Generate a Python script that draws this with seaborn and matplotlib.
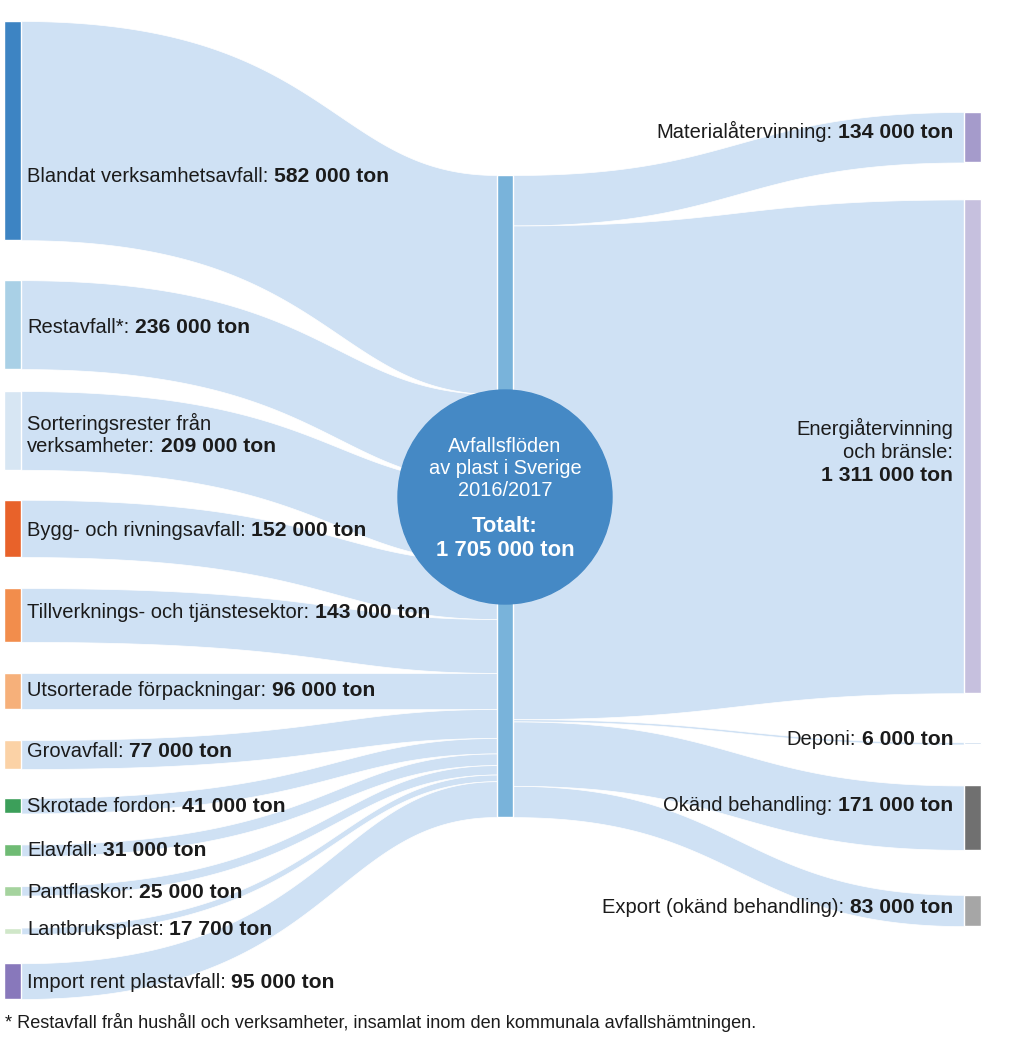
import numpy as np
import matplotlib.pyplot as plt
import matplotlib.patches as mpatches
import seaborn as sns

# Sources of plastic waste (thousand tonnes)
left_names = [
    "Blandat verksamhetsavfall:",
    "Restavfall*:",
    "Sorteringsrester från\nverksamheter:",
    "Bygg- och rivningsavfall:",
    "Tillverknings- och tjänstesektor:",
    "Utsorterade förpackningar:",
    "Grovavfall:",
    "Skrotade fordon:",
    "Elavfall:",
    "Pantflaskor:",
    "Lantbruksplast:",
    "Import rent plastavfall:",
]
left_values = [582, 236, 209, 152, 143, 96, 77, 41, 31, 25, 17.7, 95]
left_amounts = ["582 000 ton", "236 000 ton", "209 000 ton", "152 000 ton", "143 000 ton",
                "96 000 ton", "77 000 ton", "41 000 ton", "31 000 ton", "25 000 ton",
                "17 700 ton", "95 000 ton"]
left_colors = ["#3d84c3", "#a9d0e6", "#d7e6f3", "#e8622a", "#f28d4c", "#f6b07a",
               "#fbd2a6", "#3c9f5a", "#6fbb74", "#a5d39e", "#d0e7c9", "#8878bb"]

# Treatment (thousand tonnes)
right_names = [
    "Materialåtervinning:",
    "Energiåtervinning\noch bränsle:\n",
    "Deponi:",
    "Okänd behandling:",
    "Export (okänd behandling):",
]
right_values = [134, 1311, 6, 171, 83]
right_amounts = ["134 000 ton", "1 311 000 ton", "6 000 ton", "171 000 ton", "83 000 ton"]
right_colors = ["#a59bcb", "#c6c0de", "#c4d6ea", "#707070", "#a6a6a6"]

hub_title = ["Avfallsflöden", "av plast i Sverige", "2016/2017"]
hub_total = ["Totalt:", "1 705 000 ton"]
footnote = "* Restavfall från hushåll och verksamheter, insamlat inom den kommunala avfallshämtningen."

# layout (pixels)
W, H = 1024, 1039
hub_top = 175
scale = 642 / sum(left_values)
left_x = (4, 21)
hub_x = (497, 513)
right_x = (964, 981)
left_top0 = 21
left_gaps = [40, 22, 30, 31, 31, 31, 29, 31, 30, 32, 29]
right_top0 = 112
right_gaps = [37, 49, 41, 45]
left_label_y = [175, 326, 434, 529, 611, 689, 750, 805, 849, 891, 928, 981]
right_label_y = [131, 451, 738, 804, 906]
hub_title_y = [446, 468, 491]
hub_total_y = [526, 550]
flow_color = "#cfe1f4"

sns.set_theme(style="white")
plt.rcParams["font.family"] = ["Liberation Sans Narrow", "Liberation Sans", "DejaVu Sans"]

fig = plt.figure(figsize=(W / 100, H / 100), dpi=100)
ax = fig.add_axes([0, 0, 1, 1])
ax.set_xlim(0, W)
ax.set_ylim(H, 0)
ax.axis("off")


def stack(values, top0, gaps):
    tops, y = [], top0
    for i, v in enumerate(values):
        tops.append(y)
        y += v * scale + (gaps[i] if i < len(gaps) else 0)
    return tops


def ribbon(x0, x1, a0, b0, a1, b1, ctrl):
    t = np.linspace(0, 1, 120)
    cx = x0 + ctrl * (x1 - x0)
    xs = (1 - t) ** 3 * x0 + 3 * (1 - t) ** 2 * t * cx + 3 * (1 - t) * t ** 2 * cx + t ** 3 * x1
    s = 3 * (1 - t) * t ** 2 + t ** 3
    ax.fill_between(xs, a0 + (a1 - a0) * s, b0 + (b1 - b0) * s,
                    color=flow_color, ec="white", lw=0.5, zorder=1)


left_tops = stack(left_values, left_top0, left_gaps)
right_tops = stack(right_values, right_top0, right_gaps)

# flows into the hub
y = hub_top
for top, v in zip(left_tops, left_values):
    h = v * scale
    ribbon(left_x[1], hub_x[0], top, top + h, y, y + h, 0.65)
    y += h

# flows out of the hub
y = hub_top
for top, v in zip(right_tops, right_values):
    h = v * scale
    ribbon(hub_x[1], right_x[0], y, y + h, top, top + h, 0.5)
    y += h

# node bars
ax.bar(left_x[0], [v * scale for v in left_values], bottom=left_tops,
       width=left_x[1] - left_x[0], align="edge", color=left_colors, zorder=2)
ax.bar(right_x[0], [v * scale for v in right_values], bottom=right_tops,
       width=right_x[1] - right_x[0], align="edge", color=right_colors, zorder=2)
ax.bar(hub_x[0], sum(left_values) * scale, bottom=hub_top,
       width=hub_x[1] - hub_x[0], align="edge", color="#79b3da", zorder=2)

# hub circle
cx, cy, r = 505, 497, 107
ax.add_patch(mpatches.Circle((cx, cy), r, color="#4589c5", zorder=3))
for s, yy in zip(hub_title, hub_title_y):
    ax.text(cx, yy, s, ha="center", va="center", color="white", fontsize=14.4, zorder=4)
for s, yy in zip(hub_total, hub_total_y):
    ax.text(cx, yy, s, ha="center", va="center", color="white", fontsize=15.8,
            weight="bold", zorder=4)

TXT = "#1b1b1b"
FS = 14.5
FSB = 15.2
LINE = 23
BASE = 7  # baseline sits below the visual centre of the line
GAP = 4   # points between label and bold amount


def draw_label(x, yc, name, amount, ha):
    lines = name.split("\n")
    n = len(lines)
    ys = [yc + (i - (n - 1) / 2) * LINE + BASE for i in range(n)]
    for ln, yy in zip(lines[:-1], ys[:-1]):
        ax.text(x, yy, ln, ha=ha, va="baseline", fontsize=FS, color=TXT, zorder=5)
    last, yy = lines[-1], ys[-1]
    if ha == "left":
        t = ax.text(x, yy, last, ha="left", va="baseline", fontsize=FS, color=TXT, zorder=5)
        ax.annotate(amount, xy=(1, 0), xycoords=t, xytext=(GAP, 0), textcoords="offset points",
                    ha="left", va="bottom", fontsize=FSB, weight="bold", color=TXT, zorder=5)
    else:
        t = ax.text(x, yy, amount, ha="right", va="baseline", fontsize=FSB, weight="bold",
                    color=TXT, zorder=5)
        if last:
            ax.annotate(last, xy=(0, 0), xycoords=t, xytext=(-GAP, 0), textcoords="offset points",
                        ha="right", va="bottom", fontsize=FS, color=TXT, zorder=5)


for name, amt, yl in zip(left_names, left_amounts, left_label_y):
    draw_label(27, yl, name, amt, "left")
for name, amt, yl in zip(right_names, right_amounts, right_label_y):
    draw_label(953, yl, name, amt, "right")

ax.text(5, 1023, footnote, ha="left", va="center", fontsize=13.1, color=TXT)

fig.savefig("out.png", dpi=100)
